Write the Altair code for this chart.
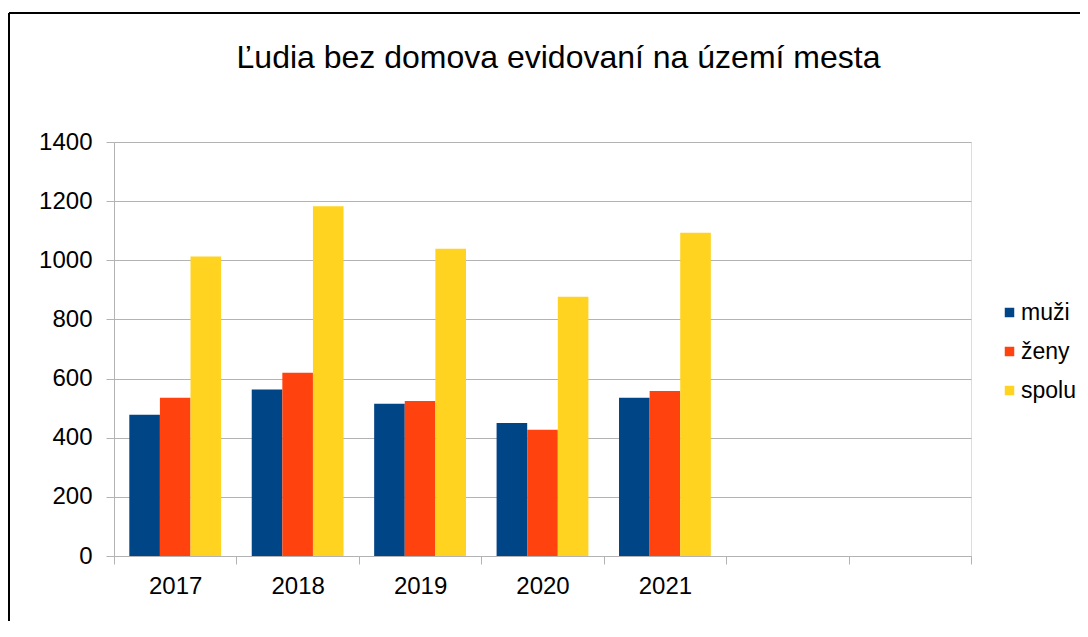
import altair as alt
import pandas as pd

# ---- data ----
years = ["2017", "2018", "2019", "2020", "2021"]
empty_slots = [" ", "  "]          # two empty categories on the x axis
series = ["muži", "ženy", "spolu"]
muzi = [478, 563, 515, 450, 535]
zeny = [535, 620, 524, 427, 558]
spolu = [1013, 1183, 1039, 877, 1093]
y_ticks = [0, 200, 400, 600, 800, 1000, 1200, 1400]
colors = ["#004586", "#ff420e", "#ffd320"]
title_text = "Ľudia bez domova evidovaní na území mesta"

rows = []
for name, vals in zip(series, [muzi, zeny, spolu]):
    for yr, v in zip(years, vals):
        rows.append({"rok": yr, "seria": name, "hodnota": v})
df = pd.DataFrame(rows)

FONT = "Liberation Sans"
GRID = "#b3b3b3"

bars = alt.Chart(df).mark_bar().encode(
    x=alt.X(
        "rok:N",
        sort=None,
        scale=alt.Scale(domain=years + empty_slots, paddingInner=0, paddingOuter=0),
        axis=alt.Axis(
            title=None, labelAngle=0, tickBand="extent", ticks=True, tickSize=8,
            tickColor=GRID, domainColor=GRID, grid=False,
            labelFontSize=24, labelFont=FONT, labelColor="black", labelPadding=10,
        ),
    ),
    xOffset=alt.XOffset(
        "seria:N", scale=alt.Scale(domain=series, paddingInner=0, paddingOuter=0.5)
    ),
    y=alt.Y(
        "hodnota:Q",
        scale=alt.Scale(domain=[0, 1400], nice=False),
        axis=alt.Axis(
            title=None, values=y_ticks, format="d", grid=True, gridColor=GRID, gridWidth=1,
            tickColor=GRID, tickSize=8, domainColor=GRID,
            labelFontSize=24, labelFont=FONT, labelColor="black", labelPadding=14,
        ),
    ),
    color=alt.Color(
        "seria:N",
        scale=alt.Scale(domain=series, range=colors),
        legend=alt.Legend(
            title=None, orient="none", legendX=884, legendY=159,
            symbolType="square", symbolSize=90, symbolStrokeWidth=0,
            labelFontSize=23, labelFont=FONT, labelColor="black",
            rowPadding=15, labelOffset=0, padding=0,
        ),
    ),
)

frame_top = alt.Chart(alt.Data(values=[{}])).mark_rule(
    color="black", strokeWidth=2, clip=False
).encode(x=alt.value(-105), x2=alt.value(1000), y=alt.value(-129))

frame_left = alt.Chart(alt.Data(values=[{}])).mark_rule(
    color="black", strokeWidth=2, clip=False
).encode(x=alt.value(-105), y=alt.value(-129), y2=alt.value(600))

chart = (
    alt.layer(bars, frame_top, frame_left)
    .properties(
        width=857,
        height=414,
        autosize=alt.AutoSizeParams(type="none"),
        padding={"left": 106, "top": 134, "right": 109, "bottom": 65},
        title=alt.TitleParams(
            title_text, fontSize=32, font=FONT, fontWeight="normal", color="black",
            anchor="middle", dx=16, offset=-63,
        ),
    )
    .configure_view(stroke=GRID)
    .configure(background="white")
)

chart.save("out.html", embed_options={"renderer": "svg", "actions": False})
